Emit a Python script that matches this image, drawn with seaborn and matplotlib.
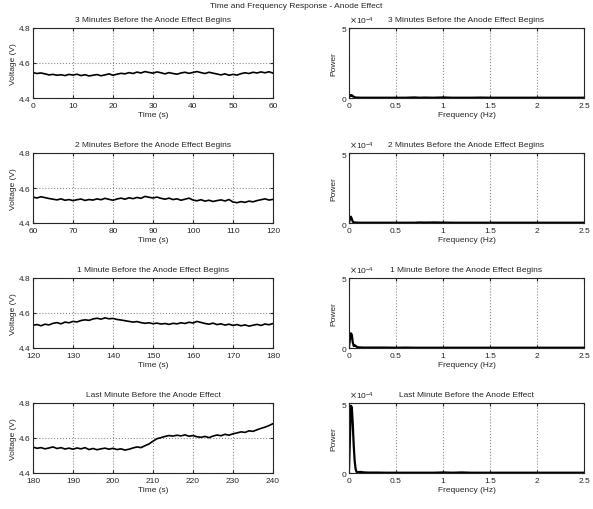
import matplotlib
matplotlib.use("Agg")
import matplotlib.pyplot as plt
import seaborn as sns
import numpy as np
from matplotlib.ticker import ScalarFormatter

sns.set_style("ticks")
plt.rcParams['font.family'] = ['Liberation Sans Narrow', 'Liberation Sans', 'DejaVu Sans']

suptitle = "Time and Frequency Response - Anode Effect"
titles = [
    "3 Minutes Before the Anode Effect Begins",
    "2 Minutes Before the Anode Effect Begins",
    "1 Minute Before the Anode Effect Begins",
    "Last Minute Before the Anode Effect",
]
time_starts = [0, 60, 120, 180]
time_ticks = [
    [0, 10, 20, 30, 40, 50, 60],
    [60, 70, 80, 90, 100, 110, 120],
    [120, 130, 140, 150, 160, 170, 180],
    [180, 190, 200, 210, 220, 230, 240],
]

volt_1 = [4.545, 4.540, 4.543, 4.538, 4.532, 4.535, 4.530, 4.533, 4.528, 4.535,
          4.531, 4.536, 4.528, 4.533, 4.526, 4.530, 4.534, 4.527, 4.532, 4.538,
          4.530, 4.536, 4.541, 4.538, 4.545, 4.540, 4.548, 4.543, 4.551, 4.546,
          4.542, 4.549, 4.544, 4.538, 4.545, 4.540, 4.536, 4.543, 4.547, 4.541,
          4.546, 4.551, 4.545, 4.540, 4.547, 4.542, 4.537, 4.532, 4.538, 4.530,
          4.535, 4.531, 4.539, 4.544, 4.540, 4.547, 4.543, 4.549, 4.544, 4.550,
          4.542]
volt_2 = [4.548, 4.543, 4.550, 4.545, 4.540, 4.536, 4.532, 4.538, 4.530, 4.534,
          4.528, 4.533, 4.537, 4.529, 4.534, 4.531, 4.538, 4.533, 4.541, 4.535,
          4.530, 4.537, 4.542, 4.536, 4.544, 4.539, 4.546, 4.541, 4.552, 4.547,
          4.543, 4.548, 4.541, 4.536, 4.542, 4.534, 4.538, 4.530, 4.536, 4.542,
          4.531, 4.527, 4.533, 4.525, 4.530, 4.523, 4.528, 4.532, 4.526, 4.534,
          4.520, 4.516, 4.522, 4.518, 4.525, 4.521, 4.528, 4.533, 4.538, 4.531,
          4.535]
volt_3 = [4.530, 4.534, 4.527, 4.536, 4.532, 4.541, 4.545, 4.538, 4.548, 4.544,
          4.552, 4.549, 4.557, 4.561, 4.558, 4.566, 4.570, 4.565, 4.572, 4.567,
          4.569, 4.563, 4.560, 4.556, 4.552, 4.548, 4.551, 4.545, 4.541, 4.544,
          4.539, 4.542, 4.537, 4.540, 4.535, 4.541, 4.538, 4.544, 4.540, 4.547,
          4.543, 4.552, 4.546, 4.540, 4.536, 4.542, 4.534, 4.538, 4.531, 4.536,
          4.529, 4.534, 4.527, 4.532, 4.525, 4.530, 4.535, 4.529, 4.537, 4.533,
          4.540]
volt_4 = [4.548, 4.541, 4.545, 4.538, 4.543, 4.549, 4.540, 4.545, 4.537, 4.542,
          4.536, 4.543, 4.538, 4.545, 4.534, 4.540, 4.533, 4.538, 4.542, 4.536,
          4.541, 4.534, 4.538, 4.531, 4.536, 4.543, 4.549, 4.545, 4.556, 4.566,
          4.582, 4.596, 4.602, 4.609, 4.614, 4.611, 4.616, 4.612, 4.618, 4.610,
          4.614, 4.607, 4.604, 4.609, 4.602, 4.611, 4.617, 4.613, 4.621, 4.616,
          4.624, 4.629, 4.635, 4.632, 4.641, 4.638, 4.647, 4.655, 4.662, 4.671,
          4.682]
volts = [volt_1, volt_2, volt_3, volt_4]

freq = [0.0, 0.01, 0.02, 0.03, 0.04, 0.05, 0.06, 0.07, 0.08, 0.09, 0.1, 0.12,
        0.15, 0.2, 0.3, 0.4, 0.5, 0.6, 0.7, 0.75, 0.8, 0.9, 1.0, 1.1, 1.2, 1.3,
        1.4, 1.5, 1.6, 1.7, 1.8, 1.9, 2.0, 2.1, 2.2, 2.3, 2.4, 2.5]
# power in units of 1e-4
power_1 = [0.10, 0.20, 0.15, 0.20, 0.12, 0.10, 0.05, 0.04, 0.03, 0.03, 0.03, 0.02,
           0.02, 0.02, 0.02, 0.02, 0.02, 0.02, 0.04, 0.02, 0.03, 0.02, 0.04, 0.02,
           0.02, 0.02, 0.03, 0.02, 0.02, 0.02, 0.02, 0.02, 0.02, 0.02, 0.02, 0.02,
           0.02, 0.02]
power_2 = [0.05, 0.25, 0.45, 0.30, 0.10, 0.05, 0.04, 0.03, 0.03, 0.03, 0.02, 0.02,
           0.02, 0.02, 0.02, 0.02, 0.02, 0.02, 0.02, 0.04, 0.03, 0.04, 0.03, 0.02,
           0.02, 0.02, 0.02, 0.02, 0.02, 0.02, 0.02, 0.02, 0.02, 0.02, 0.02, 0.02,
           0.02, 0.02]
power_3 = [0.10, 0.60, 1.05, 0.95, 0.40, 0.15, 0.20, 0.15, 0.10, 0.06, 0.05, 0.04,
           0.03, 0.03, 0.03, 0.03, 0.02, 0.03, 0.02, 0.02, 0.02, 0.02, 0.02, 0.02,
           0.02, 0.02, 0.02, 0.02, 0.02, 0.02, 0.02, 0.02, 0.02, 0.02, 0.02, 0.02,
           0.02, 0.02]
power_4 = [0.20, 2.50, 4.80, 4.70, 3.50, 2.00, 0.90, 0.30, 0.08, 0.05, 0.06, 0.08,
           0.05, 0.03, 0.03, 0.02, 0.02, 0.02, 0.02, 0.02, 0.02, 0.02, 0.04, 0.02,
           0.04, 0.02, 0.02, 0.02, 0.02, 0.02, 0.02, 0.02, 0.02, 0.02, 0.02, 0.02,
           0.02, 0.02]
powers = [power_1, power_2, power_3, power_4]
freq_ticks = [0, 0.5, 1, 1.5, 2, 2.5]
freq_ticklabels = ["0", "0.5", "1", "1.5", "2", "2.5"]

W, H = 593, 510
fig = plt.figure(figsize=(W / 100, H / 100), dpi=100)
fig.text(0.5, 1 - 7 / H, suptitle, ha='center', va='center', fontsize=6)

row_tops = [29, 154, 279, 404]
ax_h = 70
fs_tick = 6
fs_lab = 6
grid_kw = dict(color='0.55', linestyle=':', linewidth=0.8)

for i in range(4):
    top = row_tops[i]
    bottom = 1 - (top + ax_h) / H
    # time panel
    ax = fig.add_axes([33 / W, bottom, (273 - 33) / W, ax_h / H])
    t = list(range(time_starts[i], time_starts[i] + len(volts[i])))
    sns.lineplot(x=t, y=volts[i], ax=ax, color='black', linewidth=1.2)
    ax.set_xlim(time_ticks[i][0], time_ticks[i][-1])
    ax.set_ylim(4.4, 4.8)
    ax.set_xticks(time_ticks[i])
    ax.set_yticks([4.4, 4.6, 4.8])
    ax.grid(True, **grid_kw)
    ax.set_title(titles[i], fontsize=fs_lab, pad=5)
    ax.set_xlabel("Time (s)", fontsize=fs_lab, labelpad=1)
    ax.set_ylabel("Voltage (V)", fontsize=fs_lab, labelpad=2)
    ax.tick_params(direction='in', labelsize=fs_tick, length=2,
                   top=True, right=True)
    ax.tick_params(axis='x', pad=3)
    ax.tick_params(axis='y', pad=1.5)
    for s in ax.spines.values():
        s.set_linewidth(0.8)

    # frequency panel
    ax2 = fig.add_axes([349 / W, bottom, (584 - 349) / W, ax_h / H])
    p = [v * 1e-4 for v in powers[i]]
    sns.lineplot(x=freq, y=p, ax=ax2, color='black', linewidth=1.6)
    ax2.set_xlim(0, 2.5)
    ax2.set_ylim(0, 5e-4)
    ax2.set_xticks(freq_ticks)
    ax2.set_xticklabels(freq_ticklabels)
    ax2.set_yticks([0, 5e-4])
    fmt = ScalarFormatter(useMathText=True)
    fmt.set_powerlimits((0, 0))
    ax2.yaxis.set_major_formatter(fmt)
    ax2.yaxis.get_offset_text().set_fontsize(6)
    ax2.grid(True, **grid_kw)
    ax2.set_title(titles[i], fontsize=fs_lab, pad=5)
    ax2.set_xlabel("Frequency (Hz)", fontsize=fs_lab, labelpad=1)
    ax2.set_ylabel("Power", fontsize=fs_lab, labelpad=2)
    ax2.tick_params(direction='in', labelsize=fs_tick, length=2,
                    top=True, right=True)
    ax2.tick_params(axis='x', pad=3)
    ax2.tick_params(axis='y', pad=1.5)
    for s in ax2.spines.values():
        s.set_linewidth(0.8)

fig.savefig("out.png", dpi=100)
